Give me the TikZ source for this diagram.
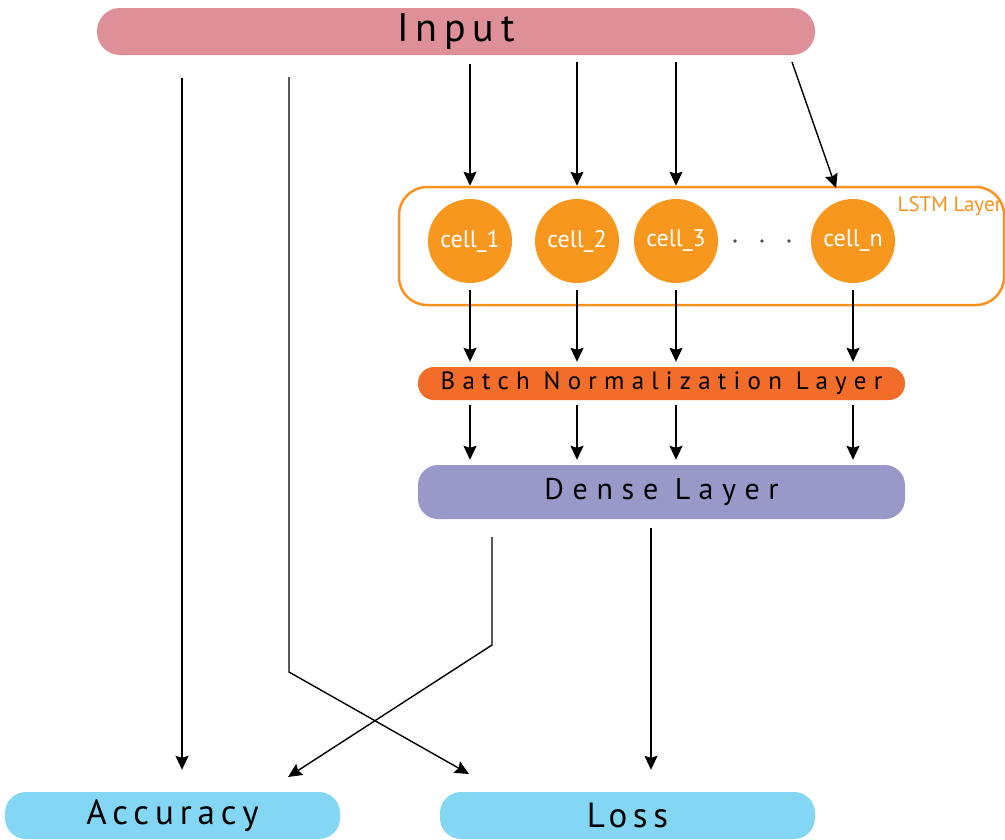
\documentclass[tikz,border=0pt]{standalone}
\usepackage{fontspec}
\setmainfont{PT Sans}
\usetikzlibrary{arrows.meta}
\definecolor{inpc}{HTML}{DF8F98}
\definecolor{bnc}{HTML}{F26C2A}
\definecolor{dnc}{HTML}{9999C9}
\definecolor{outc}{HTML}{84D6F5}
\definecolor{cellc}{HTML}{F7971E}
\definecolor{lstmc}{HTML}{F7931E}
\tikzset{
  pill/.style={draw=none, inner sep=0pt, text=black},
  cellnode/.style={circle, fill=cellc, minimum size=84pt, inner sep=0pt, text=white, font=\fontsize{24}{26}\selectfont},
  arr/.style={line width=1.4pt, -{Stealth[length=14pt,width=13pt,inset=2pt]}},
}
\begin{document}
\begin{tikzpicture}[x=1pt,y=-1pt]
\useasboundingbox (0,0) rectangle (1005,839);
% layer boxes
\node[pill, fill=inpc, minimum width=718pt, minimum height=47pt, rounded corners=23pt,
  font=\fontsize{40}{42}\selectfont\addfontfeature{LetterSpace=17}] (inp) at (456,31.5) {Input};
\node[draw=lstmc, line width=2.5pt, rounded corners=28pt, minimum width=605pt, minimum height=118pt, inner sep=0pt] (lstm) at (701.5,246) {};
\node[text=lstmc, font=\fontsize{21}{24}\selectfont, anchor=east, inner sep=0pt] (lstml) at (1002,206) {LSTM Layer};
\node[cellnode] (c1) at (470,241) {cell\_1};
\node[cellnode] (c2) at (577,241) {cell\_2};
\node[cellnode] (c3) at (676,241) {cell\_3};
\node[cellnode] (cn) at (853,241) {cell\_n};
\foreach \x in {735,762,789} \fill[black!70] (\x,241) circle (1.8pt);
\node[pill, fill=bnc, minimum width=487pt, minimum height=33pt, rounded corners=16pt,
  font=\fontsize{25}{27}\selectfont\addfontfeature{LetterSpace=29}] (bn) at (661.5,383.5) {Batch Normalization Layer};
\node[pill, fill=dnc, minimum width=487pt, minimum height=54pt, rounded corners=20pt,
  font=\fontsize{30}{32}\selectfont\addfontfeature{LetterSpace=29}] (dn) at (661.5,492) {Dense Layer};
\node[pill, fill=outc, minimum width=335pt, minimum height=47pt, rounded corners=21pt,
  font=\fontsize{35}{37}\selectfont\addfontfeature{LetterSpace=17}] (acc) at (172.5,815.5) {Accuracy};
\node[pill, fill=outc, minimum width=375pt, minimum height=47pt, rounded corners=21pt,
  font=\fontsize{35}{37}\selectfont\addfontfeature{LetterSpace=16}] (loss) at (627.5,815.5) {Loss};
% helper coordinates
\coordinate (b1) at (289,672);
\coordinate (t1) at (469,774);
\coordinate (s6) at (792,62);
\coordinate (t6) at (836,188);
\coordinate (b2) at (492,645);
\coordinate (t2) at (288,777);
% Input connectors
\draw[arr, shorten <=23pt, shorten >=22pt] (inp.south -| 182,0) -- (acc.north -| 182,0);
\draw[arr, shorten <=22pt] (inp.south -| b1) -- (b1) -- (t1);
\draw[arr, shorten <=9pt] (inp.south -| c1) -- (c1 |- lstm.north);
\draw[arr, shorten <=7pt] (inp.south -| c2) -- (c2 |- lstm.north);
\draw[arr, shorten <=7pt] (inp.south -| c3) -- (c3 |- lstm.north);
\draw[arr] (s6) -- (t6);
% cells to BN
\foreach \c in {c1,c2,c3,cn}
  \draw[arr, shorten <=7pt, shorten >=5pt] (\c.south) -- (\c |- bn.north);
% BN to Dense
\foreach \c in {c1,c2,c3,cn}
  \draw[arr, shorten <=5pt, shorten >=5pt] (\c |- bn.south) -- (\c |- dn.north);
% Dense outputs
\draw[arr, shorten <=18pt] (dn.south -| b2) -- (b2) -- (t2);
\draw[arr, shorten <=9pt, shorten >=22pt] (dn.south -| 651,0) -- (loss.north -| 651,0);
\end{tikzpicture}
\end{document}
